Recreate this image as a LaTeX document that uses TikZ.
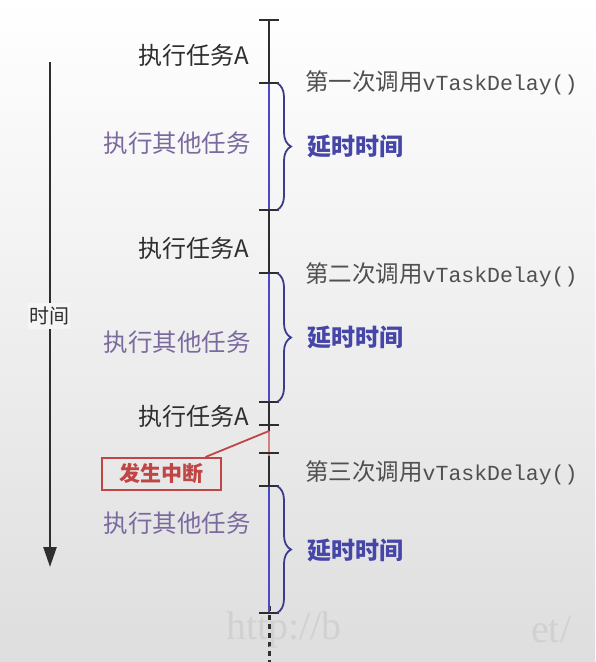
\documentclass[tikz,border=0pt]{standalone}
\usepackage{fontspec}
\usepackage{xcolor}
\newfontfamily\cjk{Noto Sans CJK SC}
\newfontfamily\codefont{Liberation Mono}
\newfontfamily\wmfont{Liberation Serif}
\usetikzlibrary{decorations.pathreplacing,arrows.meta}
\definecolor{taskblack}{HTML}{2E2E2E}
\definecolor{otherpurple}{HTML}{7A6A9E}
\definecolor{delayblue}{HTML}{4646A8}
\definecolor{bracecol}{HTML}{3C3C8C}
\definecolor{lineblue}{HTML}{4A4AC8}
\definecolor{irqred}{HTML}{C04545}
\definecolor{callgray}{HTML}{505050}

\begin{document}
\begin{tikzpicture}[x=1pt,y=-1pt,
  tasklbl/.style={font=\cjk\fontsize{24}{26}\selectfont, text=taskblack, anchor=east, inner sep=0pt},
  otherlbl/.style={font=\cjk\fontsize{24.5}{26}\selectfont, text=otherpurple, anchor=east, inner sep=0pt},
  calllbl/.style={font=\cjk\fontsize{23.5}{26}\selectfont, text=callgray, anchor=west, inner sep=0pt},
  delaylbl/.style={font=\cjk\bfseries\fontsize{24}{26}\selectfont, text=delayblue, anchor=west, inner sep=0pt},
  tickmark/.style={taskblack, line width=2.2pt},
  delaybrace/.style={bracecol, line width=1.8pt, decorate, decoration={brace, amplitude=14pt, raise=8pt}},
  bluepart/.style={lineblue, line width=2.2pt}]
  % Background
  \shade[top color=white, bottom color=black!13] (0,0) rectangle (595,662);
  \useasboundingbox (0,0) rectangle (595,662);
  % Tick positions on the time line
  \foreach \name/\y in {t0/20, t1/83, t2/210, t3/273, t4/402, t5/425, t6/453, t7/486, t8/613}
    \coordinate (\name) at (269,\y);
  \coordinate (tend) at (269,662);
  % Time line
  \draw[taskblack, line width=2.2pt] (t0) -- (t8);
  \draw[taskblack, line width=3pt, dash pattern=on 5pt off 4pt] ([yshift=7pt]t8) -- (tend);
  \draw[bluepart] (t1) -- (t2);
  \draw[bluepart] (t3) -- (t4);
  \draw[bluepart] (t7) -- (t8);
  \coordinate (irqpt) at (269,431);
  \draw[irqred!70, line width=2.2pt] (irqpt) -- ([yshift=-3pt]t6);
  \foreach \name in {t0,t1,t2,t3,t4,t5,t6,t7,t8}
    \draw[tickmark] ([xshift=-10pt]\name) -- ([xshift=10pt]\name);
  % Braces for the delay time
  \draw[delaybrace] (t1) -- (t2);
  \draw[delaybrace] (t3) -- (t4);
  \draw[delaybrace] (t7) -- (t8);
  % Labels left of the time line
  \node[tasklbl] (runA1) at (249,55) {执行任务A};
  \node[otherlbl] (other1) at (251,143) {执行其他任务};
  \node[tasklbl] (runA2) at (249,248) {执行任务A};
  \node[otherlbl] (other2) at (251,342) {执行其他任务};
  \node[tasklbl] (runA3) at (249,416) {执行任务A};
  \node[otherlbl] (other3) at (251,523) {执行其他任务};
  % Labels right of the time line
  \node[calllbl] (call1) at (305,83) {第一次调用{\codefont\fontsize{21.5}{24}\selectfont vTaskDelay()}};
  \node[delaylbl] (delay1) at (307,146) {延时时间};
  \node[calllbl] (call2) at (305,275) {第二次调用{\codefont\fontsize{21.5}{24}\selectfont vTaskDelay()}};
  \node[delaylbl] (delay2) at (307,337) {延时时间};
  \node[calllbl] (call3) at (305,473) {第三次调用{\codefont\fontsize{21.5}{24}\selectfont vTaskDelay()}};
  \node[delaylbl] (delay3) at (307,550) {延时时间};
  % Interrupt
  \node[draw=irqred, line width=2pt, minimum width=119pt, minimum height=32pt, inner sep=0pt,
    font=\cjk\bfseries\fontsize{21}{23}\selectfont, text=irqred] (irq) at (161,474) {发生中断};
  \draw[irqred, line width=1.8pt] (irqpt) -- ([xshift=-16pt]irq.north east);
  % Time arrow
  \coordinate (timetop) at (50,62);
  \coordinate (timebot) at (50,567);
  \draw[taskblack, line width=2.4pt, -{Triangle[length=20pt, width=13pt]}] (timetop) -- (timebot);
  \node[fill=black!4, inner xsep=1pt, inner ysep=4pt, font=\cjk\fontsize{20}{22}\selectfont, text=taskblack] (timelbl) at (49,316) {时间};
  % Watermark
  \node[font=\wmfont\fontsize{40}{42}\selectfont, text=black!18, anchor=west, inner sep=0pt] (wm1) at (226,630) {http://b};
  \node[font=\wmfont\fontsize{40}{42}\selectfont, text=black!18, anchor=west, inner sep=0pt] (wm2) at (531,630) {et/};
\end{tikzpicture}
\end{document}
